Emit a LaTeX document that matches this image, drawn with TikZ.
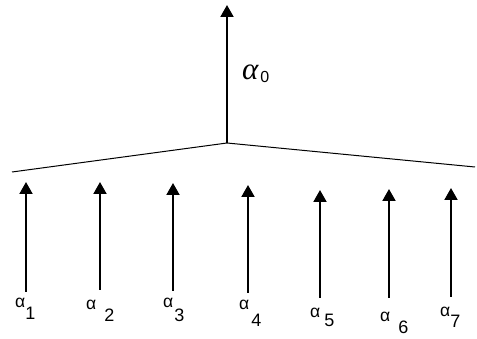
\documentclass[tikz,border=0pt]{standalone}
\usepackage{fontspec}
\setmainfont{Liberation Sans}
\newfontfamily\rootfont{Liberation Serif}
\usetikzlibrary{arrows.meta}

\begin{document}
\begin{tikzpicture}[x=1pt,y=-1pt,
  root/.style={line width=2pt,-{Triangle[width=13pt,length=12pt]}},
  lbl/.style={anchor=base west,inner sep=0pt}]
\useasboundingbox (0,0) rectangle (477,339);
\coordinate (apex) at (227,143);
\coordinate (left) at (12,172);
\coordinate (right) at (475,167);
\coordinate (top) at (227,5);
\draw[line width=1pt] (left) -- (apex) -- (right);
\draw[root] (apex) -- (top);
\node[lbl] (a0) at (242,80) {\fontsize{31}{31}\selectfont\rootfont\itshape α\hspace{2pt}\raisebox{-3pt}{\fontsize{16}{16}\selectfont\normalfont 0}};
% simple roots
\foreach \i/\x/\yt/\yb in {1/26/182/292,2/100/182/290,3/173/183/291,4/248/185/293,5/320/190/298,6/389/189/298,7/451/188/297}{
  \coordinate (t\i) at (\x,\yt);
  \coordinate (b\i) at (\x,\yb);
  \draw[root] (b\i) -- (t\i);
}
\foreach \i/\x/\y/\g/\d in {1/15/308/0/12,2/86/309/8/13,3/163/308/1/14,4/239/310/2/17,5/310/318/4/9,6/380/322/8/12,7/440/317/0/10}{
  \node[lbl] (a\i) at (\x,\y) {\fontsize{17.5}{17.5}\selectfont α\hspace{\g pt}\raisebox{-\d pt}{\fontsize{18}{18}\selectfont\i}};
}
\end{tikzpicture}
\end{document}
